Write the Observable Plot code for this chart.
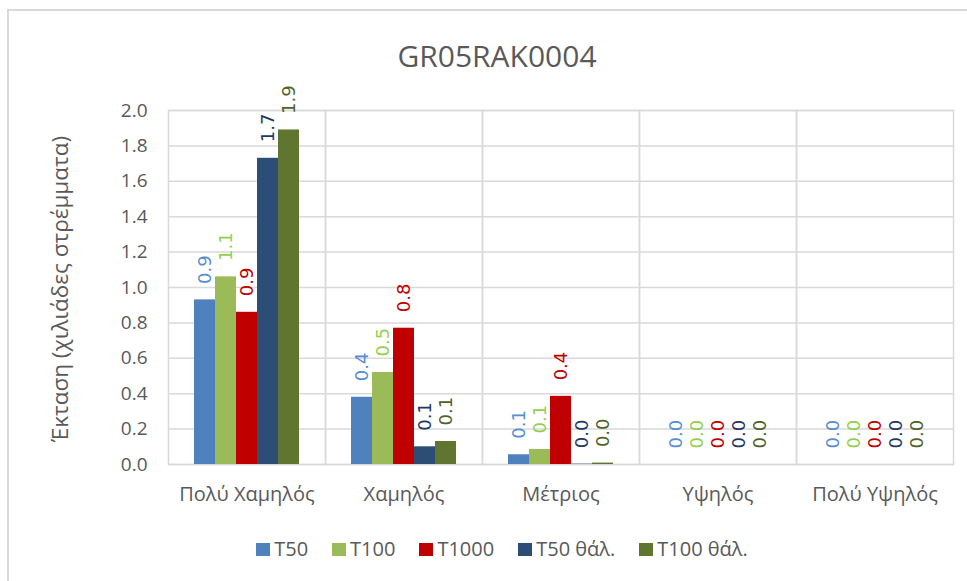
<!DOCTYPE html>
<html>
<head>
<meta charset="utf-8">
<script src="https://cdn.jsdelivr.net/npm/d3@7"></script>
<script src="https://cdn.jsdelivr.net/npm/@observablehq/plot@0.6"></script>
<style>
html, body { margin: 0; padding: 0; background: #fff; overflow: hidden; }
#wrap { position: relative; width: 967px; height: 581px; font-family: "Open Sans", sans-serif; color: #595959; overflow: hidden; }
#border { position: absolute; left: 7px; top: 9px; width: 1000px; height: 600px; border-top: 2px solid #d9d9d9; border-left: 2px solid #d9d9d9; }
#title { position: absolute; left: 197px; top: 41px; width: 600px; text-align: center; font-size: 30px; line-height: 30px; }
#ylabel { position: absolute; left: -140px; top: 277px; width: 400px; height: 24px; line-height: 24px; text-align: center; font-size: 22.5px; transform: rotate(-90deg); white-space: nowrap; }
#chart { position: absolute; left: 0; top: 70px; }
#legend { position: absolute; left: 102px; top: 539px; width: 800px; display: flex; justify-content: center; gap: 24px; font-size: 20px; line-height: 20px; white-space: nowrap; }
#legend .item { display: flex; align-items: center; }
#legend .sw { display: inline-block; width: 14px; height: 13px; margin-right: 4px; }
</style>
</head>
<body>
<div id="wrap">
  <div id="border"></div>
  <div id="title"></div>
  <div id="ylabel"></div>
  <div id="chart"></div>
  <div id="legend"></div>
</div>
<script>
// ---- data ----
const chartTitle = "GR05RAK0004";
const yAxisTitle = "Έκταση (χιλιάδες στρέμματα)";
const categories = ["Πολύ Χαμηλός", "Χαμηλός", "Μέτριος", "Υψηλός", "Πολύ Υψηλός"];
const seriesNames = ["T50", "T100", "T1000", "T50 θάλ.", "T100 θάλ."];
const t50 = [0.93, 0.38, 0.055, 0, 0];
const t100 = [1.06, 0.52, 0.085, 0, 0];
const t1000 = [0.86, 0.77, 0.385, 0, 0];
const t50sea = [1.73, 0.10, 0.002, 0, 0];
const t100sea = [1.89, 0.13, 0.008, 0, 0];

// ---- styles ----
const barColors = ["#4f81bd", "#9bbb59", "#c00000", "#2c4d75", "#5f7530"];
const labelColors = ["#558ed5", "#92d050", "#c00000", "#1f3864", "#4f6228"];

const seriesValues = [t50, t100, t1000, t50sea, t100sea];
const rows = categories.flatMap((c, i) =>
  seriesNames.map((s, j) => ({
    category: c,
    series: s,
    value: seriesValues[j][i],
    bar: barColors[j],
    label: labelColors[j]
  }))
);

const fmt = d3.format(".1f");

const chart = Plot.plot({
  width: 967,
  height: 460,
  marginTop: 40,
  marginBottom: 66,
  marginLeft: 167,
  marginRight: 13,
  style: { fontFamily: "Open Sans", fontSize: "19px", color: "#595959", background: "transparent", overflow: "visible" },
  fx: { domain: categories, padding: 0, label: null },
  x: { domain: seriesNames, axis: null, paddingInner: 0, paddingOuter: 1.125 },
  y: { domain: [0, 2], ticks: 10, tickFormat: fmt, tickSize: 0, tickPadding: 21, label: null },
  color: { type: "identity" },
  marks: [
    Plot.gridY({ ticks: 10, stroke: "#d9d9d9", strokeOpacity: 1, strokeWidth: 1.5 }),
    Plot.frame({ stroke: "#d9d9d9", strokeWidth: 1.5 }),
    Plot.axisFx({ anchor: "bottom", tickSize: 0, tickPadding: 22, fontSize: 20, label: null }),
    Plot.barY(rows, { fx: "category", x: "series", y: "value", fill: "bar" }),
    Plot.text(rows, {
      fx: "category", x: "series", y: "value",
      text: d => fmt(d.value),
      fill: "label",
      rotate: -90,
      textAnchor: "start",
      dy: -16,
      fontFamily: "DejaVu Sans",
      fontSize: 18
    })
  ]
});

document.getElementById("chart").appendChild(chart);

document.getElementById("title").textContent = chartTitle;
document.getElementById("ylabel").textContent = yAxisTitle;

const legend = d3.select("#legend");
seriesNames.forEach((s, j) => {
  const item = legend.append("div").attr("class", "item");
  item.append("span").attr("class", "sw").style("background", barColors[j]);
  item.append("span").text(s);
});
</script>
</body>
</html>
